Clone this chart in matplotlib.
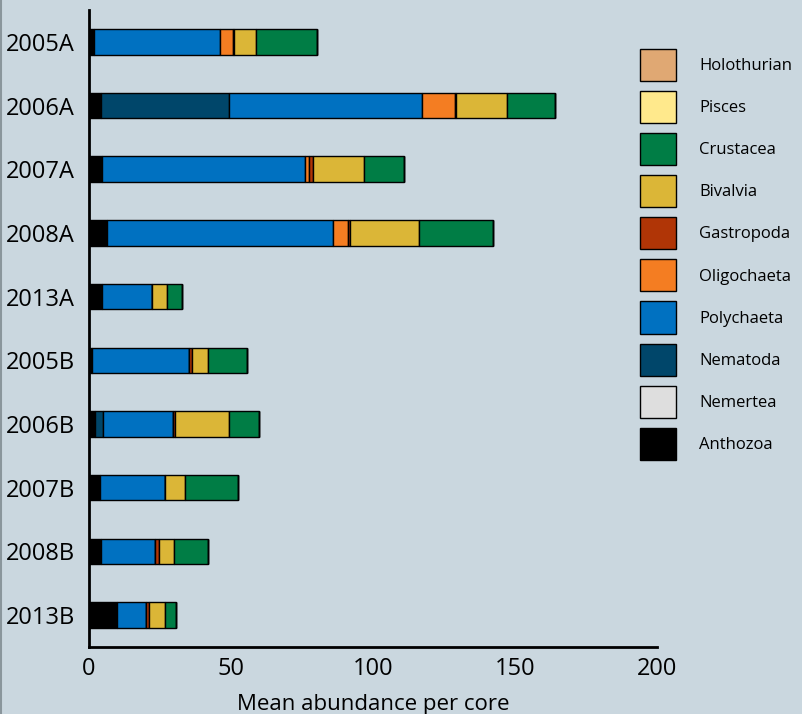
import numpy as np
import matplotlib
matplotlib.use('Agg')
import matplotlib.pyplot as plt
from matplotlib.lines import Line2D

plt.rcParams['font.family'] = ['Open Sans', 'DejaVu Sans']

#Sites, top to bottom
sites = ['2005A', '2006A', '2007A', '2008A', '2013A',
         '2005B', '2006B', '2007B', '2008B', '2013B']

#Mean abundance per core for each taxon (stacking order, left to right)
taxa = ['Anthozoa', 'Nemertea', 'Nematoda', 'Polychaeta', 'Oligochaeta',
        'Gastropoda', 'Bivalvia', 'Crustacea', 'Pisces', 'Holothurian']
anthozoa    = [1.6, 4.1, 4.7, 6.5, 4.7, 1.1, 2.0, 3.9, 4.1, 9.8]
nemertea    = [0, 0, 0, 0, 0, 0, 0, 0, 0, 0]
nematoda    = [0, 45.2, 0, 0, 0, 0, 2.9, 0, 0, 0]
polychaeta  = [44.7, 67.9, 71.4, 79.3, 17.6, 34.1, 24.7, 22.9, 19.2, 10.2]
oligochaeta = [4.4, 11.7, 1.5, 5.3, 0, 0, 0, 0, 0, 0]
gastropoda  = [0.4, 0.4, 1.3, 0.7, 0, 0.9, 0.7, 0, 1.4, 1.1]
bivalvia    = [7.7, 17.9, 18.1, 24.6, 5.0, 5.9, 19.0, 7.1, 5.4, 5.5]
crustacea   = [21.6, 17.1, 13.9, 25.8, 5.3, 13.6, 10.7, 18.4, 11.8, 4.1]
pisces      = [0, 0, 0, 0, 0, 0, 0, 0, 0, 0]
holothurian = [0, 0, 0, 0, 0, 0, 0, 0, 0, 0]

values = [anthozoa, nemertea, nematoda, polychaeta, oligochaeta,
          gastropoda, bivalvia, crustacea, pisces, holothurian]
colors = ['#000000', '#DEDEDE', '#00466A', '#0071C1', '#F47D22',
          '#B03506', '#DBB637', '#007D45', '#FFE98C', '#E0A873']

bg = '#CAD7DF'
fig = plt.figure(figsize=(8.02, 7.14), dpi=100, facecolor=bg)
ax = fig.add_axes([0.111, 0.094, 0.708, 0.892], facecolor=bg)

y = np.arange(len(sites))
left = np.zeros(len(sites))
handles = []
for name, vals, col in zip(taxa, values, colors):
    vals = np.array(vals, dtype=float)
    b = ax.barh(y, vals, left=left, height=0.4, color=col,
                edgecolor='black', linewidth=1, label=name)
    handles.append(b)
    left += vals

ax.set_ylim(len(sites) - 0.5, -0.5)
ax.set_xlim(0, 200)
ax.set_yticks(y)
ax.set_yticklabels(sites, fontsize=17)
ax.set_xticks([0, 50, 100, 150, 200])
ax.tick_params(axis='x', labelsize=17, length=0, pad=7)
ax.tick_params(axis='y', length=0, pad=10)
ax.set_xlabel('Mean abundance per core', fontsize=16, labelpad=10)

ax.spines['top'].set_color('none')
ax.spines['right'].set_color('none')
ax.spines['left'].set_linewidth(2)
ax.spines['bottom'].set_linewidth(2)

#legend lists the taxa in reverse stacking order
leg = fig.legend(handles[::-1], taxa[::-1], loc='upper left',
                 bbox_to_anchor=(0.779, 0.952), frameon=False, fontsize=12,
                 handlelength=2.16, handleheight=2.58, labelspacing=0.6,
                 handletextpad=1.4)

#thin frame line at the left edge
fig.add_artist(Line2D([0.001, 0.001], [0, 1], color='#8A969C', lw=1.5))

plt.savefig('out.png', dpi=100, facecolor=bg)
